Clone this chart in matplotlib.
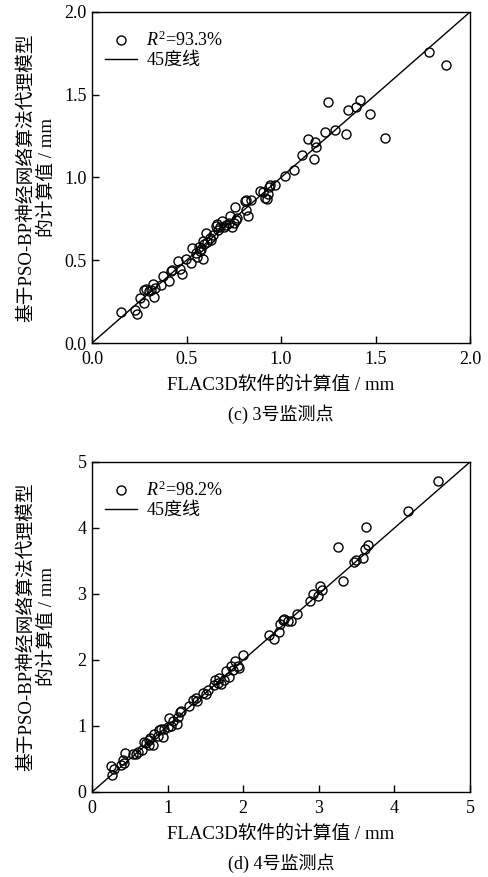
import matplotlib
matplotlib.use("Agg")
import matplotlib.pyplot as plt
from matplotlib.ticker import MultipleLocator, FuncFormatter

plt.rcParams['font.family'] = ['Liberation Serif', 'Noto Sans CJK SC']
plt.rcParams['mathtext.fontset'] = 'custom'
plt.rcParams['mathtext.rm'] = 'Liberation Serif'
plt.rcParams['mathtext.it'] = 'Liberation Serif:italic'

# (c) monitoring point 3
c_x = [0.154, 0.228, 0.239, 0.277, 0.254, 0.274, 0.286, 0.300, 0.322, 0.327, 0.313, 0.334,
       0.366, 0.375, 0.410, 0.419, 0.424, 0.456, 0.466, 0.477, 0.498, 0.525, 0.527, 0.548,
       0.555, 0.565, 0.569, 0.578, 0.587, 0.587, 0.595, 0.604, 0.610, 0.622, 0.631, 0.640,
       0.657, 0.661, 0.666, 0.675, 0.689, 0.701, 0.710, 0.724, 0.728, 0.742, 0.749, 0.758,
       0.767, 0.763, 0.807, 0.813, 0.816, 0.825, 0.843, 0.890, 0.905, 0.917, 0.926, 0.931,
       0.935, 0.943, 0.968, 1.019, 1.071, 1.111, 1.145, 1.173, 1.180, 1.187, 1.233, 1.251,
       1.288, 1.343, 1.352, 1.399, 1.420, 1.470, 1.551, 1.781, 1.873]
c_y = [0.188, 0.198, 0.177, 0.244, 0.274, 0.323, 0.327, 0.313, 0.355, 0.278, 0.319, 0.335,
       0.353, 0.403, 0.375, 0.435, 0.444, 0.496, 0.450, 0.419, 0.510, 0.484, 0.577, 0.544,
       0.520, 0.581, 0.556, 0.565, 0.510, 0.617, 0.597, 0.665, 0.611, 0.637, 0.621, 0.651,
       0.706, 0.718, 0.685, 0.702, 0.738, 0.698, 0.712, 0.726, 0.766, 0.702, 0.726, 0.819,
       0.758, 0.742, 0.859, 0.806, 0.863, 0.766, 0.867, 0.917, 0.911, 0.879, 0.869, 0.899,
       0.944, 0.954, 0.954, 1.010, 1.048, 1.137, 1.232, 1.109, 1.212, 1.185, 1.276, 1.454,
       1.286, 1.260, 1.407, 1.423, 1.468, 1.383, 1.236, 1.756, 1.681]

# (d) monitoring point 4
d_x = [0.260, 0.251, 0.295, 0.383, 0.405, 0.441, 0.427, 0.537, 0.581, 0.604, 0.656, 0.714,
       0.692, 0.749, 0.771, 0.758, 0.802, 0.824, 0.868, 0.890, 0.912, 0.943, 0.956, 1.000,
       1.022, 1.044, 1.066, 1.119, 1.132, 1.163, 1.176, 1.278, 1.330, 1.374, 1.383, 1.463,
       1.507, 1.529, 1.617, 1.630, 1.661, 1.683, 1.705, 1.749, 1.771, 1.815, 1.837, 1.868,
       1.890, 1.925, 1.938, 2.000, 2.344, 2.410, 2.476, 2.485, 2.529, 2.542, 2.599, 2.630,
       2.718, 2.885, 2.925, 2.991, 3.013, 3.048, 3.260, 3.322, 3.467, 3.489, 3.590, 3.612,
       3.621, 3.656, 4.185, 4.577]
d_y = [0.253, 0.389, 0.354, 0.404, 0.480, 0.596, 0.439, 0.571, 0.581, 0.606, 0.631, 0.747,
       0.758, 0.783, 0.823, 0.707, 0.707, 0.874, 0.848, 0.934, 0.949, 0.833, 0.960, 0.985,
       1.121, 0.995, 1.076, 1.025, 1.136, 1.212, 1.227, 1.298, 1.389, 1.429, 1.374, 1.505,
       1.490, 1.540, 1.616, 1.692, 1.652, 1.732, 1.641, 1.692, 1.833, 1.742, 1.904, 1.843,
       1.985, 1.904, 1.884, 2.081, 2.374, 2.323, 2.424, 2.540, 2.611, 2.626, 2.591, 2.591,
       2.702, 2.889, 3.005, 2.965, 3.116, 3.066, 3.712, 3.192, 3.485, 3.510, 3.551, 3.687,
       4.015, 3.737, 4.253, 4.712]

panels = [
    dict(x=c_x, y=c_y, lim=2.0, step=0.5, fmt='{:.1f}', r2='$R^2$=93.3%', cap='(c) 3号监测点'),
    dict(x=d_x, y=d_y, lim=5.0, step=1.0, fmt='{:.0f}', r2='$R^2$=98.2%', cap='(d) 4号监测点'),
]
xlabel = 'FLAC3D软件的计算值 / mm'
ylabel = '基于PSO-BP神经网络算法代理模型\n的计算值 / mm'
line_label = '45度线'

W, H = 488, 877
fig = plt.figure(figsize=(W / 100, H / 100), dpi=100)
boxes = [(92, 12, 470, 343), (92, 462, 470, 792)]
fs = 13
lfs = 13.5

for p, (l, t, r, b) in zip(panels, boxes):
    ax = fig.add_axes([l / W, 1 - b / H, (r - l) / W, (b - t) / H])
    ax.plot(p['x'], p['y'], 'o', mfc='none', mec='black', ms=6.5, mew=1.0,
            linestyle='none', label=p['r2'])
    ax.plot([0, p['lim']], [0, p['lim']], color='black', lw=1.0, label=line_label)
    ax.set_xlim(0, p['lim'])
    ax.set_ylim(0, p['lim'])
    ax.xaxis.set_major_locator(MultipleLocator(p['step']))
    ax.yaxis.set_major_locator(MultipleLocator(p['step']))
    ax.xaxis.set_major_formatter(FuncFormatter(lambda v, _, f=p['fmt']: f.format(v)))
    ax.yaxis.set_major_formatter(FuncFormatter(lambda v, _, f=p['fmt']: f.format(v)))
    ax.tick_params(direction='in', length=5, width=1, labelsize=fs)
    ax.tick_params(axis='x', pad=6)
    ax.tick_params(axis='y', pad=4)
    for s in ax.spines.values():
        s.set_linewidth(1.0)
    # x label and caption positioned relative to axes bottom
    fig.text(((l + r) / 2) / W, 1 - (b + 42) / H, xlabel, ha='center', va='center', fontsize=lfs)
    fig.text(((l + r) / 2) / W, 1 - (b + 71) / H, p['cap'], ha='center', va='center', fontsize=fs)
    fig.text(37 / W, 1 - ((t + b) / 2) / H, ylabel, ha='center', va='center',
             rotation=90, multialignment='center', fontsize=lfs, linespacing=1.2)
    ax.legend(loc='upper left', frameon=False, fontsize=fs, handlelength=1.8,
              handletextpad=0.5, borderaxespad=0.0, labelspacing=0.1,
              bbox_to_anchor=(0.015, 0.965))

fig.savefig('out.png', dpi=100)
